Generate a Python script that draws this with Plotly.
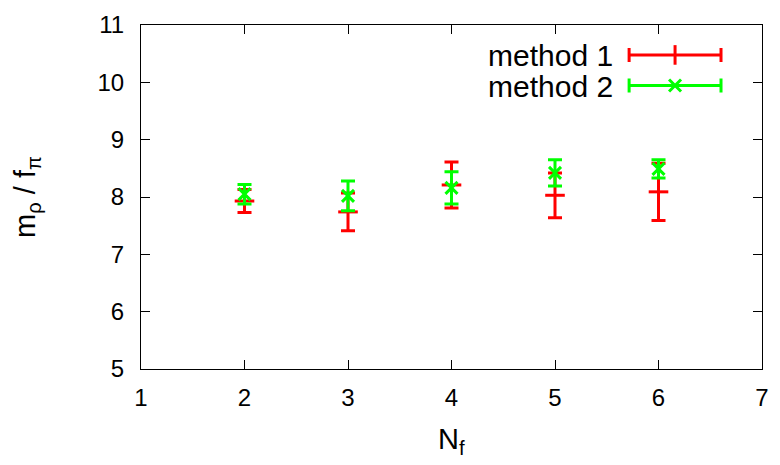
import plotly.graph_objects as go

nf = [2, 3, 4, 5, 6]
m1_val = [7.93, 7.74, 8.21, 8.03, 8.09]
m1_err = [0.20, 0.33, 0.40, 0.39, 0.50]
m2_val = [8.05, 8.02, 8.16, 8.42, 8.49]
m2_err = [0.17, 0.26, 0.28, 0.23, 0.16]
series_names = ["method 1", "method 2"]
colors = ["#ff0000", "#00ff00"]
x_title = "N<sub>f</sub>"
y_title = "m<sub>ρ</sub> / f<sub>π</sub>"

FONT = "Liberation Sans"
FS_TICK = 24
FS_TITLE = 29
FS_LEG = 30
fig = go.Figure()

fig.add_trace(go.Scatter(
    x=nf, y=m1_val, mode="markers", showlegend=False,
    error_y=dict(type="data", array=m1_err, color=colors[0], thickness=3, width=7),
    marker=dict(symbol="line-ew", size=14, color=colors[0], line=dict(color=colors[0], width=3)),
))
fig.add_trace(go.Scatter(
    x=nf, y=m2_val, mode="markers", showlegend=False,
    error_y=dict(type="data", array=m2_err, color=colors[1], thickness=3, width=7),
    marker=dict(symbol="x-thin", size=12, color=colors[1], line=dict(color=colors[1], width=3)),
))

# manual legend (overlay axes spanning the plot area)
leg_x = 0.86
leg_half = 0.074
leg_y = [0.913, 0.824]
leg_sym = ["line-ns", "x-thin"]
leg_size = [14, 12]
for i in range(2):
    fig.add_trace(go.Scatter(
        x=[leg_x], y=[leg_y[i]], xaxis="x2", yaxis="y2", mode="markers", showlegend=False,
        error_x=dict(type="constant", value=leg_half, color=colors[i], thickness=3, width=7),
        marker=dict(symbol=leg_sym[i], size=leg_size[i], color=colors[i], line=dict(color=colors[i], width=3)),
    ))
    fig.add_annotation(x=0.762, y=leg_y[i], xref="paper", yref="paper", text=series_names[i],
                       showarrow=False, xanchor="right", yanchor="middle", height=28, borderpad=0,
                       font=dict(family=FONT, size=FS_LEG, color="black"))

# axis titles as annotations
fig.add_annotation(x=0.5, y=0, xref="paper", yref="paper", yshift=-72, text=x_title,
                   showarrow=False, xanchor="center", yanchor="middle",
                   font=dict(family=FONT, size=FS_TITLE, color="black"))
fig.add_annotation(x=0, y=0.5, xref="paper", yref="paper", xshift=-114, text=y_title,
                   showarrow=False, xanchor="center", yanchor="middle", textangle=-90,
                   font=dict(family=FONT, size=FS_TITLE, color="black"))

axis_common = dict(showline=True, linecolor="black", linewidth=1, mirror="ticks",
                   ticks="inside", ticklen=9, tickcolor="black", showgrid=False, zeroline=False,
                   tickfont=dict(family=FONT, size=FS_TICK, color="black"))

fig.update_layout(
    width=780, height=465,
    margin=dict(l=141, r=11, t=23, b=96),
    paper_bgcolor="white", plot_bgcolor="white",
    xaxis=dict(range=[1, 7], dtick=1, tickmode="linear", ticklabelstandoff=7, **axis_common),
    yaxis=dict(range=[5, 11], dtick=1, tickmode="linear", ticklabelstandoff=11, **axis_common),
    xaxis2=dict(range=[0, 1], overlaying="x", visible=False, fixedrange=True),
    yaxis2=dict(range=[0, 1], overlaying="y", visible=False, fixedrange=True),
)

fig.write_html("out.html", config={"displayModeBar": False},
               post_script="document.body.style.margin='0';document.body.style.overflow='hidden';")
